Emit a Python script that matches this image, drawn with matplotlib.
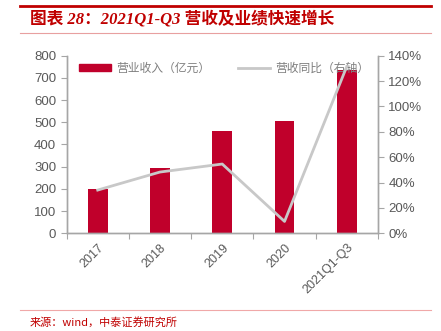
import numpy as np
import matplotlib.pyplot as plt
from matplotlib.lines import Line2D

plt.rcParams['font.family'] = ['Liberation Sans', 'Noto Sans CJK SC', 'DejaVu Sans']

periods = ['2017', '2018', '2019', '2020', '2021Q1-Q3']
revenue = [198, 294, 459, 504, 733]          # 营业收入（亿元）
growth = [34.1, 48.3, 54.6, 9.4, 131.5]      # 营收同比（%）

bar_color = '#C0002B'
line_color = '#C8C8C8'
axis_color = '#A6A6A6'
text_color = '#595959'
title_red = '#C00000'

fig = plt.figure(figsize=(4.41, 3.31), dpi=100)
ax = fig.add_axes([0.151, 0.295, 0.706, 0.537])
ax2 = ax.twinx()

x = np.arange(len(periods))
ax.bar(x, revenue, width=0.32, color=bar_color, zorder=2)
ax2.plot(x, growth, color=line_color, lw=2.0, zorder=3)

ax.set_xlim(-0.5, len(periods) - 0.5)
ax.set_ylim(0, 800)
ax.set_yticks(np.arange(0, 801, 100))
ax2.set_ylim(0, 140)
ax2.set_yticks(np.arange(0, 141, 20))
ax2.set_yticklabels([f'{v}%' for v in range(0, 141, 20)])

# category ticks sit between bars, labels rotated under each bar
ax.set_xticks(np.arange(-0.5, len(periods)), minor=False)
ax.set_xticklabels([])
ax.set_xticks(x, minor=True)
ax.set_xticklabels(periods, minor=True, rotation=45, ha='right', va='top',
                   rotation_mode='anchor', fontsize=9, color=text_color)
ax.tick_params(axis='x', which='minor', length=0, pad=6)
ax.tick_params(axis='x', which='major', length=4, color=axis_color, direction='out')
ax.tick_params(axis='y', length=4, color=axis_color, labelsize=9.5, labelcolor=text_color)
ax2.tick_params(axis='y', length=4, color=axis_color, labelsize=9.5, labelcolor=text_color)

for a in (ax, ax2):
    a.spines['top'].set_visible(False)
    for side in ('left', 'right', 'bottom'):
        a.spines[side].set_color(axis_color)
        a.spines[side].set_linewidth(1.0)

handles = [plt.Rectangle((0, 0), 1, 1, color=bar_color),
           Line2D([0], [0], color=line_color, lw=2)]
leg = ax.legend(handles, ['营业收入（亿元）', '营收同比（右轴）'], loc='upper left',
                bbox_to_anchor=(0.02, 1.0), ncol=2, frameon=False,
                handlelength=2.7, handleheight=0.6, columnspacing=2.4,
                handletextpad=0.45, borderaxespad=0.1,
                prop={'family': ['Noto Sans CJK SC'], 'size': 8.5})
for t in leg.get_texts():
    t.set_color('#7F7F7F')

# header and footer rules
fig.add_artist(Line2D([0.045, 0.977], [0.982, 0.982], color=title_red, lw=2.0))
fig.add_artist(Line2D([0.045, 0.977], [0.900, 0.900], color='#E8A0A0', lw=0.8))
fig.add_artist(Line2D([0.045, 0.977], [0.063, 0.063], color='#F0A8A8', lw=0.8))

fig.text(0.068, 0.942, '图表 28：2021Q1-Q3 营收及业绩快速增长', color=title_red,
         fontsize=12, fontweight='bold', va='center', ha='left', style='italic',
         family=['Liberation Serif', 'Noto Sans CJK SC'])
fig.text(0.068, 0.027, '来源：wind，中泰证券研究所', color=title_red,
         fontsize=8, va='center', ha='left', family=['Noto Sans CJK SC'])

fig.savefig('out.png', dpi=100)
